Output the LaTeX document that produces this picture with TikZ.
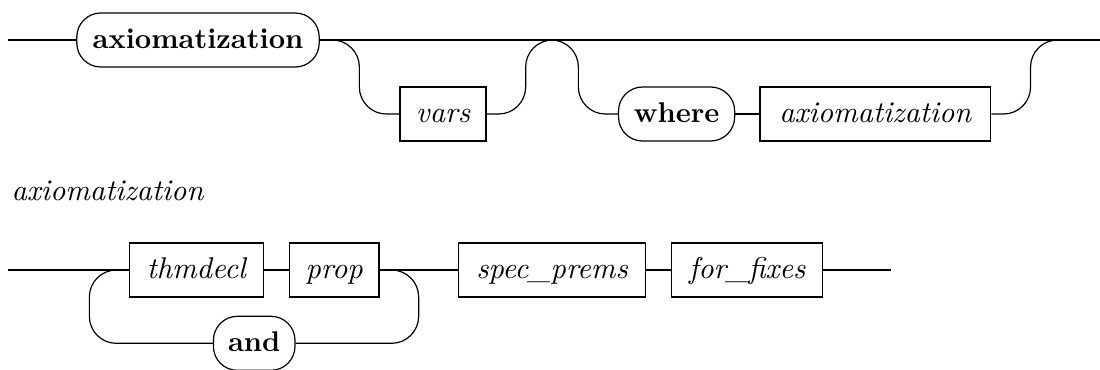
\documentclass[tikz,border=0pt]{standalone}
\usetikzlibrary{calc}
\tikzset{
  nt/.style={draw, rectangle, minimum height=18pt, inner sep=0pt, text height=7.5pt, text depth=2pt, font=\itshape},
  kw/.style={draw, rectangle, rounded corners=8pt, minimum height=18pt, inner sep=0pt, text height=7.5pt, text depth=2pt, font=\fontsize{9.5}{11}\selectfont\bfseries},
  rc/.style={rounded corners=9pt},
}
\begin{document}
\begin{tikzpicture}[x=0.33333pt, y=-0.33333pt, line width=0.4pt]
\useasboundingbox (0,0) rectangle (1100,369);
% top diagram
\coordinate (s1) at (8,40);
\coordinate (e1) at (1100,40);
\node[kw, minimum width=80.8pt] (kw1) at (198,40) {axiomatization};
\node[nt, minimum width=28.7pt] (vars) at (443,114) {vars};
\node[kw, minimum width=38.7pt] (where) at (676.6,114) {where};
\node[nt, minimum width=76.9pt] (ax2) at (875.3,114) {axiomatization};
\draw (s1) -- (kw1.west);
\draw (kw1.east) -- (e1);
\draw[rc] (kw1.east) -| ($(vars.west)+(-40,0)$) -- (vars.west);
\draw[rc] (vars.east) -| ($(vars.east)+(39,-74)$) -| ($(where.west)+(-39.6,0)$) -- (where.west);
\draw (where.east) -- (ax2.west);
\draw[rc] (ax2.east) -| ($(ax2.east)+(39.3,-74)$) -- (e1);
% heading
\node[anchor=base west, inner sep=0pt, font=\itshape] (head) at (11,200) {axiomatization};
% bottom diagram
\coordinate (s2) at (8,270);
\coordinate (e2) at (890.7,270);
\node[nt, minimum width=44.7pt] (thm) at (196.3,270) {thmdecl};
\node[nt, minimum width=29.9pt] (prop) at (334.2,270) {prop};
\node[kw, minimum width=27.2pt] (and) at (254.2,343.3) {and};
\node[nt, minimum width=62.5pt] (spec) at (552,270) {spec\_prems};
\node[nt, minimum width=50.3pt] (ff) at (747.2,270) {for\_fixes};
\draw (s2) -- (thm.west);
\draw (thm.east) -- (prop.west);
\draw (prop.east) -- (spec.west);
\draw (spec.east) -- (ff.west);
\draw (ff.east) -- (e2);
\draw[rc] (prop.east) -| ($(prop.east)+(39,73.3)$) -- (and.east);
\draw[rc] (and.west) -| ($(thm.west)+(-39.3,0)$) -- (thm.west);
\end{tikzpicture}
\end{document}
